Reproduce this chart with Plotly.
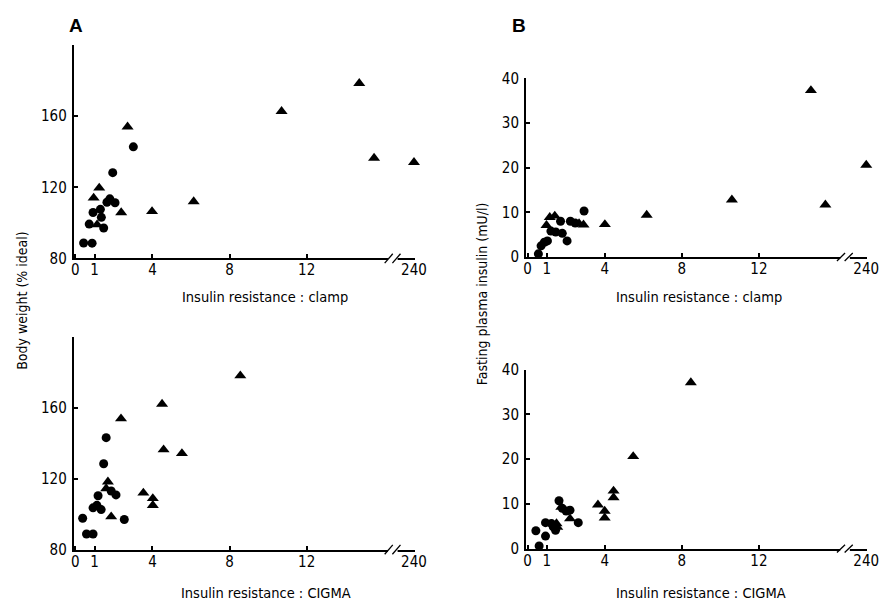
import plotly.graph_objects as go

# ---------------- data ----------------
# Panel A, clamp: body weight (% ideal) vs insulin resistance (clamp)
a_clamp_circle_x = [0.43, 0.87, 0.72, 0.92, 1.30, 1.35, 1.47, 1.64, 1.79, 2.06, 1.94, 3.01]
a_clamp_circle_y = [88.7, 88.6, 99.3, 105.8, 107.6, 103.1, 97.1, 111.6, 113.5, 111.3, 128.2, 142.7]
a_clamp_tri_x = [0.95, 1.24, 1.13, 2.38, 2.71, 3.98, 6.14, 10.7, 14.73, 15.5, 240]
a_clamp_tri_y = [114, 119.6, 99, 105.8, 154, 106.4, 112, 162.7, 178.4, 136.4, 134]

# Panel B, clamp: fasting plasma insulin vs insulin resistance (clamp)
b_clamp_circle_x = [2.93, 1.71, 2.22, 2.47, 1.21, 1.46, 1.80, 2.05, 1.03, 0.87, 0.70, 0.56]
b_clamp_circle_y = [10.3, 8.0, 8.0, 7.6, 5.8, 5.6, 5.3, 3.6, 3.6, 3.3, 2.5, 0.7]
b_clamp_tri_x = [14.7, 240, 15.45, 10.6, 6.18, 4.01, 2.67, 2.9, 1.15, 1.41, 0.98]
b_clamp_tri_y = [37.3, 20.6, 11.7, 12.8, 9.4, 7.3, 7.5, 7.2, 8.9, 9.2, 7.1]

# Panel A, CIGMA
a_cigma_circle_x = [1.60, 1.47, 1.86, 2.11, 1.18, 0.92, 1.12, 1.34, 0.38, 2.54, 0.58, 0.92]
a_cigma_circle_y = [143.2, 128.5, 113.1, 110.9, 110.4, 103.6, 105.0, 102.6, 97.7, 97.0, 88.8, 88.8]
a_cigma_tri_x = [8.56, 4.5, 2.37, 4.58, 5.53, 3.53, 4.02, 4.02, 1.69, 1.86, 1.60]
a_cigma_tri_y = [178.2, 162.2, 153.9, 136.4, 134.3, 112.0, 108.9, 105.0, 118.3, 98.6, 114.5]

# Panel B, CIGMA
b_cigma_circle_x = [0.43, 0.60, 0.93, 0.93, 1.24, 1.33, 1.45, 1.63, 1.80, 2.00, 2.20, 2.63]
b_cigma_circle_y = [4.0, 0.6, 5.8, 2.8, 5.6, 4.9, 4.1, 10.7, 9.0, 8.4, 8.6, 5.8]
b_cigma_tri_x = [8.47, 5.48, 4.46, 4.46, 3.65, 4.0, 4.0, 2.2, 1.75, 1.54, 1.50]
b_cigma_tri_y = [37.1, 20.6, 12.9, 11.4, 9.8, 8.4, 6.9, 6.7, 9.3, 4.8, 5.6]

x_tick_values = [0, 1, 4, 8, 12, 240]
x_tick_labels = ["0", "1", "4", "8", "12", "240"]
a_y_ticks = [80, 120, 160, 200]
a_y_labels = ["80", "120", "160", ""]
b_y_ticks = [0, 10, 20, 30, 40]
b_y_labels = ["0", "10", "20", "30", "40"]

# ---------------- broken x axis mapping ----------------
BREAK_VALUE = 240      # value shown after the axis break
BREAK_POS = 17.57      # where it sits on the linear axis
X_RANGE = [-0.08, 17.62]


def xmap(vals):
    return [BREAK_POS + (v - BREAK_VALUE) * 0.01 if v > 100 else v for v in vals]


W, H = 891, 612
FONT = "Liberation Sans Narrow, DejaVu Sans Condensed, Arial Narrow, sans-serif"


def px_dom(a, b, total):
    return [a / total, b / total]


def py_dom(top, bottom):
    return [1 - bottom / H, 1 - top / H]


panels = [
    ("x", "y", (72, 419), (37, 257), [80, 200], a_y_ticks, a_y_labels,
     (a_clamp_circle_x, a_clamp_circle_y, a_clamp_tri_x, a_clamp_tri_y)),
    ("x2", "y2", (532, 879), (71.5, 255.5), [0, 40], b_y_ticks, b_y_labels,
     (b_clamp_circle_x, b_clamp_circle_y, b_clamp_tri_x, b_clamp_tri_y)),
    ("x3", "y3", (72, 419), (338, 557), [80, 200], a_y_ticks, a_y_labels,
     (a_cigma_circle_x, a_cigma_circle_y, a_cigma_tri_x, a_cigma_tri_y)),
    ("x4", "y4", (532, 879), (371.5, 556), [0, 40], b_y_ticks, b_y_labels,
     (b_cigma_circle_x, b_cigma_circle_y, b_cigma_tri_x, b_cigma_tri_y)),
]

fig = go.Figure()
layout = dict(
    width=W, height=H,
    margin=dict(l=0, r=0, t=0, b=0),
    paper_bgcolor="white", plot_bgcolor="white",
    showlegend=False,
    font=dict(family=FONT, size=15, color="black"),
)

shapes = []
for xa, ya, (x0, x1), (yt, yb), yr, yt_vals, yt_text, (cx, cy, tx, ty) in panels:
    fig.add_trace(go.Scatter(x=xmap(cx), y=cy, xaxis=xa, yaxis=ya, mode="markers",
                             marker=dict(symbol="circle", size=9, color="black"),
                             cliponaxis=False))
    fig.add_trace(go.Scatter(x=xmap(tx), y=ty, xaxis=xa, yaxis=ya, mode="markers",
                             marker=dict(symbol="triangle-up", size=10.5, color="black"),
                             cliponaxis=False))
    xkey = "xaxis" + xa[1:]
    ykey = "yaxis" + ya[1:]
    layout[xkey] = dict(
        domain=px_dom(x0, x1, W), anchor=ya, range=X_RANGE,
        showgrid=False, zeroline=False, showline=True, linecolor="black", linewidth=2,
        tickmode="array", tickvals=xmap(x_tick_values), ticktext=x_tick_labels,
        ticks="inside", ticklen=4, tickwidth=1.5, tickcolor="black",
        ticklabelstandoff=-3,
        tickfont=dict(family=FONT, size=15, color="black"),
    )
    layout[ykey] = dict(
        domain=py_dom(yt, yb), anchor=xa, range=yr,
        showgrid=False, zeroline=False, showline=True, linecolor="black", linewidth=2,
        tickmode="array", tickvals=yt_vals, ticktext=yt_text,
        ticks="inside", ticklen=4, tickwidth=1.5, tickcolor="black",
        ticklabelstandoff=2,
        tickfont=dict(family=FONT, size=15, color="black"),
    )
    # axis break: white gap + two slashes
    yd = ya + " domain"
    shapes.append(dict(type="rect", xref=xa, yref=yd, x0=16.22, x1=16.72,
                       y0=-0.02, y1=0.02, fillcolor="white", line=dict(width=0),
                       layer="above"))
    for sx in (16.05, 16.45):
        shapes.append(dict(type="line", xref=xa, yref=yd, x0=sx, x1=sx + 0.42,
                           y0=-0.022, y1=0.022, line=dict(color="black", width=1.3),
                           layer="above"))

layout["shapes"] = shapes

annotations = []


def ann(text, x, y, size=15, angle=0, bold=False):
    annotations.append(dict(
        text=("<b>%s</b>" % text) if bold else text,
        x=x / W, y=1 - y / H, xref="paper", yref="paper",
        showarrow=False, textangle=angle, xanchor="center", yanchor="middle",
        font=dict(family=("Liberation Sans, Arial, sans-serif" if bold else FONT),
                  size=size, color="black"),
    ))


ann("A", 74, 17, size=19, bold=True)
ann("B", 525, 17, size=19, bold=True)
ann("Insulin resistance : clamp", 266, 297, size=14.5)
ann("Insulin resistance : clamp", 708, 297, size=14.5)
ann("Insulin resistance : CIGMA", 268, 602, size=14.5)
ann("Insulin resistance : CIGMA", 710, 602, size=14.5)
ann("Body weight (% ideal)", 19, 300, size=14, angle=-90)
ann("Fasting plasma insulin (mU/l)", 488, 293, size=14, angle=-90)
layout["annotations"] = annotations

fig.update_layout(**layout)
fig.write_html("out.html",
               config={"displayModeBar": False},
               post_script="document.body.style.margin='0';document.body.style.overflow='hidden';")
